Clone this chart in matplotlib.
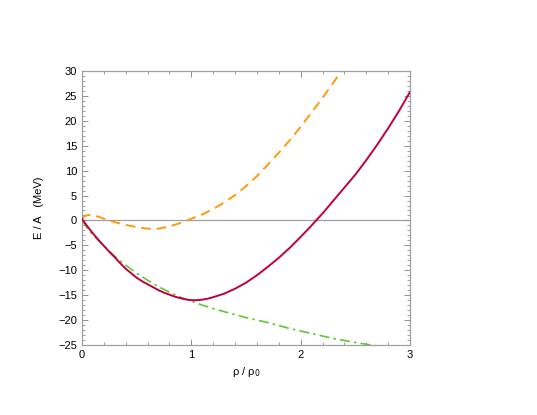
import matplotlib
matplotlib.use("Agg")
import matplotlib.pyplot as plt
from matplotlib.ticker import MultipleLocator

#########################################################
# Data
#########################################################

x_red = [0, 0.05, 0.1, 0.15, 0.2, 0.25, 0.3, 0.35, 0.4, 0.45, 0.5, 0.55, 0.6,
         0.65, 0.7, 0.75, 0.8, 0.85, 0.9, 0.95, 1.0, 1.05, 1.1, 1.15, 1.2,
         1.3, 1.4, 1.5, 1.6, 1.7, 1.8, 1.9, 2.0, 2.1, 2.2, 2.3, 2.4, 2.5,
         2.6, 2.7, 2.8, 2.9, 3.0]
y_red = [0.3, -1.2, -2.6, -3.9, -5.1, -6.3, -7.4, -8.6, -9.7, -10.6, -11.5,
         -12.2, -12.8, -13.4, -14.0, -14.5, -14.9, -15.3, -15.6, -15.85, -16.0,
         -16.0, -15.9, -15.7, -15.4, -14.7, -13.7, -12.5, -11.0, -9.3, -7.5,
         -5.5, -3.3, -1.0, 1.4, 4.0, 6.6, 9.2, 12.1, 15.2, 18.5, 22.0, 25.8]

x_orange = [0, 0.02, 0.05, 0.08, 0.12, 0.17, 0.22, 0.3, 0.4, 0.5, 0.6, 0.7,
            0.8, 0.9, 0.96, 1.0, 1.1, 1.2, 1.3, 1.4, 1.5, 1.6, 1.7, 1.8, 1.9,
            2.0, 2.1, 2.2, 2.3, 2.38]
y_orange = [0.3, 0.8, 1.05, 1.1, 0.95, 0.6, 0.2, -0.35, -0.9, -1.35, -1.65,
            -1.65, -1.2, -0.5, 0.0, 0.35, 1.2, 2.3, 3.6, 5.1, 6.9, 8.9, 11.2,
            13.6, 16.1, 18.8, 21.7, 24.6, 27.7, 30.2]

x_green = [0, 0.05, 0.1, 0.15, 0.2, 0.3, 0.4, 0.5, 0.6, 0.7, 0.8, 0.9, 1.0,
           1.1, 1.2, 1.3, 1.4, 1.5, 1.6, 1.7, 1.8, 1.9, 2.0, 2.1, 2.2, 2.3,
           2.4, 2.5, 2.6, 2.7]
y_green = [0.0, -1.6, -2.9, -4.0, -5.1, -7.2, -9.0, -10.6, -12.0, -13.3,
           -14.4, -15.4, -16.2, -17.0, -17.7, -18.3, -18.9, -19.5, -20.0,
           -20.5, -21.1, -21.7, -22.2, -22.7, -23.2, -23.7, -24.1, -24.5,
           -24.85, -25.2]

#########################################################
# Plot
#########################################################

plt.rcParams['font.family'] = ['Liberation Sans', 'DejaVu Sans']
plt.rcParams['font.size'] = 8

fig = plt.figure(figsize=(5.37, 4.15), dpi=100)
ax = fig.add_axes([0.1527, 0.1687, 0.6108, 0.6602])

ax.axhline(0, color='#a0a0a0', linewidth=0.9, zorder=1)
ax.plot(x_orange, y_orange, color='#ff9910', linewidth=1.4,
        dashes=(5, 3), zorder=2)
ax.plot(x_green, y_green, color='#5fc832', linewidth=1.2,
        dashes=(6, 2.5, 1.5, 2.5), zorder=2)
ax.plot(x_red, y_red, color='#c00040', linewidth=1.4, zorder=3)

ax.set_xlim(0, 3)
ax.set_ylim(-25, 30)
ax.xaxis.set_major_locator(MultipleLocator(1))
ax.xaxis.set_minor_locator(MultipleLocator(0.2))
ax.yaxis.set_major_locator(MultipleLocator(5))
ax.yaxis.set_minor_locator(MultipleLocator(1))

ax.tick_params(which='both', direction='in', top=True, right=True,
               color='#909090', labelsize=8)
ax.tick_params(which='major', length=4, width=0.7)
ax.tick_params(which='minor', length=2, width=0.6)
for s in ax.spines.values():
    s.set_color('#a0a0a0')
    s.set_linewidth(0.9)

ax.set_xlabel('ρ / ρ$_0$', fontsize=8, labelpad=4)
ax.set_ylabel('E / A   (MeV)', fontsize=8, labelpad=10)

fig.savefig('out.png', dpi=100)
